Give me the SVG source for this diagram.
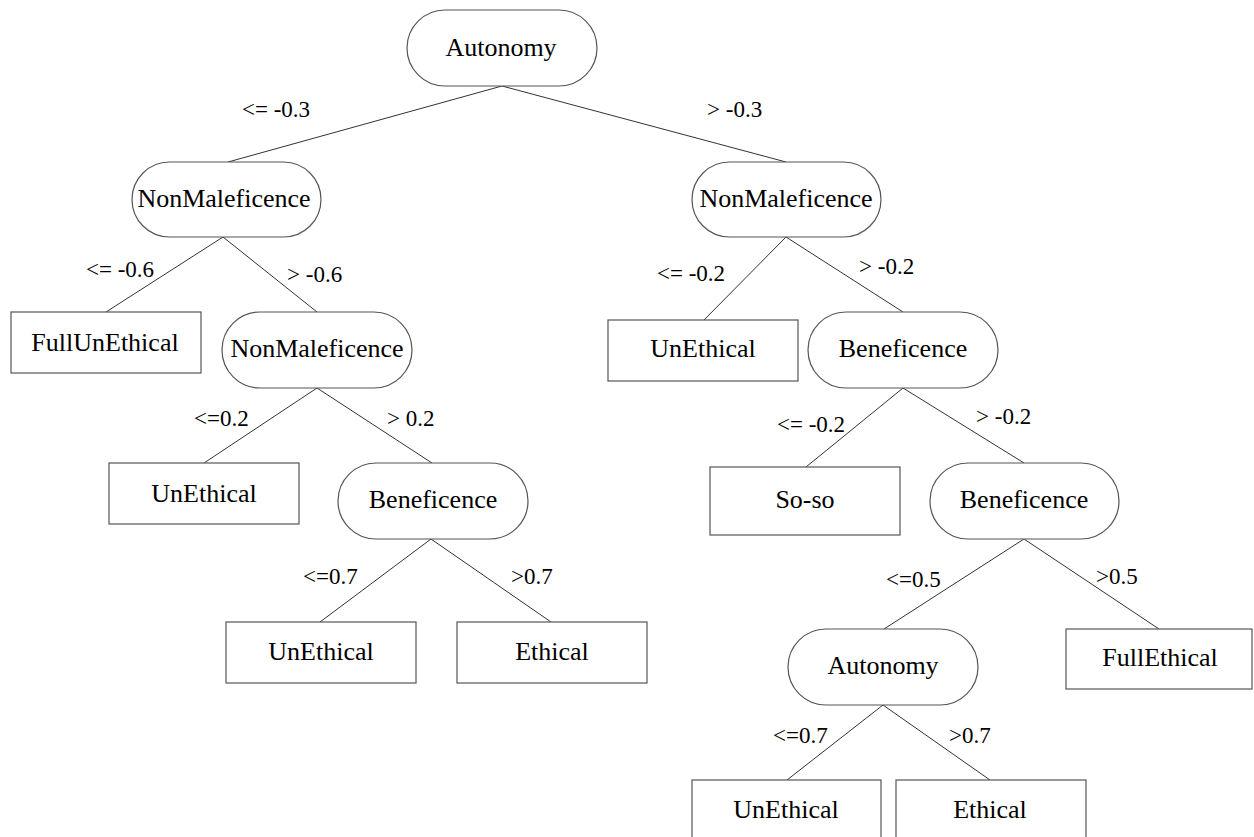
<svg xmlns="http://www.w3.org/2000/svg" width="1254" height="837" viewBox="0 0 1254 837">
<style>
.n{fill:#fff;stroke:#555;stroke-width:1.2}
.t{font-family:"Liberation Serif","Times New Roman",serif;font-size:26px;fill:#000;text-anchor:middle}
.l{font-family:"Liberation Serif","Times New Roman",serif;font-size:23px;fill:#000}
#edges line{stroke:#333;stroke-width:1}
</style>
<rect width="1254" height="837" fill="#fff"/>
<g id="edges">
<line x1="502" y1="86" x2="228" y2="162"/>
<line x1="502" y1="86" x2="786" y2="162"/>
<line x1="223" y1="237" x2="106" y2="312"/>
<line x1="223" y1="237" x2="317" y2="312"/>
<line x1="786" y1="237" x2="704" y2="320"/>
<line x1="786" y1="237" x2="903" y2="312"/>
<line x1="317" y1="388" x2="204" y2="463"/>
<line x1="317" y1="388" x2="432" y2="463"/>
<line x1="431" y1="539" x2="320" y2="622"/>
<line x1="431" y1="539" x2="551" y2="622"/>
<line x1="903" y1="388" x2="806" y2="467"/>
<line x1="903" y1="388" x2="1024" y2="463"/>
<line x1="1024" y1="539" x2="884" y2="629"/>
<line x1="1024" y1="539" x2="1159" y2="629"/>
<line x1="883" y1="705" x2="787" y2="780"/>
<line x1="883" y1="705" x2="990" y2="780"/>
</g>
<g id="labels">
<text class="l" x="242" y="117">&lt;= -0.3</text>
<text class="l" x="707" y="117">&gt; -0.3</text>
<text class="l" x="86" y="277">&lt;= -0.6</text>
<text class="l" x="287" y="282">&gt; -0.6</text>
<text class="l" x="657" y="281">&lt;= -0.2</text>
<text class="l" x="859" y="274">&gt; -0.2</text>
<text class="l" x="194" y="426">&lt;=0.2</text>
<text class="l" x="387" y="426">&gt; 0.2</text>
<text class="l" x="777" y="432">&lt;= -0.2</text>
<text class="l" x="976" y="424">&gt; -0.2</text>
<text class="l" x="303" y="584">&lt;=0.7</text>
<text class="l" x="511" y="584">&gt;0.7</text>
<text class="l" x="886" y="587">&lt;=0.5</text>
<text class="l" x="1096" y="584">&gt;0.5</text>
<text class="l" x="773" y="743">&lt;=0.7</text>
<text class="l" x="949" y="743">&gt;0.7</text>
</g>
<g id="n-root"><rect class="n" x="407" y="10" width="190" height="76" rx="38"/><text class="t" x="501" y="56">Autonomy</text></g>
<g id="n-nm-left"><rect class="n" x="132" y="162" width="189" height="75" rx="37.5"/><text class="t" x="224" y="207">NonMaleficence</text></g>
<g id="n-nm-right"><rect class="n" x="692" y="162" width="189" height="75" rx="37.5"/><text class="t" x="786" y="207">NonMaleficence</text></g>
<g id="n-fullunethical"><rect class="n" x="11" y="312" width="190" height="61"/><text class="t" x="105" y="351">FullUnEthical</text></g>
<g id="n-nm2"><rect class="n" x="222" y="312" width="190" height="76" rx="38"/><text class="t" x="317" y="357">NonMaleficence</text></g>
<g id="n-unethical-r"><rect class="n" x="608" y="320" width="190" height="61"/><text class="t" x="703" y="357">UnEthical</text></g>
<g id="n-bene-r"><rect class="n" x="808" y="312" width="190" height="76" rx="38"/><text class="t" x="903" y="357">Beneficence</text></g>
<g id="n-unethical-l3"><rect class="n" x="109" y="463" width="190" height="61"/><text class="t" x="204" y="502">UnEthical</text></g>
<g id="n-bene-l"><rect class="n" x="338" y="463" width="190" height="76" rx="38"/><text class="t" x="433" y="508">Beneficence</text></g>
<g id="n-soso"><rect class="n" x="710" y="467" width="190" height="68"/><text class="t" x="805" y="508">So-so</text></g>
<g id="n-bene2"><rect class="n" x="930" y="463" width="189" height="76" rx="38"/><text class="t" x="1024" y="508">Beneficence</text></g>
<g id="n-unethical-l4"><rect class="n" x="226" y="622" width="190" height="61"/><text class="t" x="321" y="660">UnEthical</text></g>
<g id="n-ethical-l4"><rect class="n" x="457" y="622" width="190" height="61"/><text class="t" x="552" y="660">Ethical</text></g>
<g id="n-auto2"><rect class="n" x="788" y="629" width="190" height="76" rx="38"/><text class="t" x="883" y="674">Autonomy</text></g>
<g id="n-fullethical"><rect class="n" x="1066" y="629" width="186" height="60"/><text class="t" x="1160" y="666">FullEthical</text></g>
<g id="n-unethical-b"><rect class="n" x="692" y="780" width="189" height="70"/><text class="t" x="786" y="818">UnEthical</text></g>
<g id="n-ethical-b"><rect class="n" x="896" y="780" width="190" height="70"/><text class="t" x="990" y="818">Ethical</text></g>
</svg>
